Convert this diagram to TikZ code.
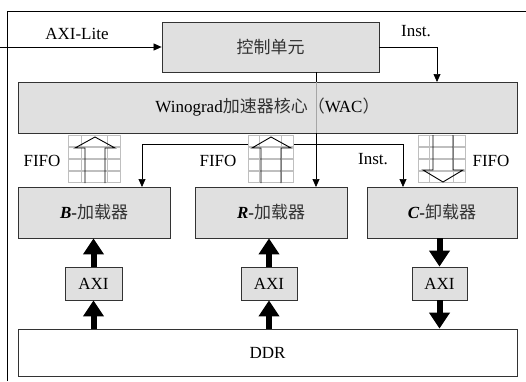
\documentclass[tikz,border=0pt]{standalone}
\usepackage{fontspec}
\setmainfont{Liberation Serif}
\newfontfamily\cjkfont{Noto Sans CJK SC}
\newcommand{\zh}[1]{{\cjkfont\color{black!80}#1}}
\usetikzlibrary{arrows.meta}
\begin{document}
\begin{tikzpicture}[x=1pt,y=-1pt,
  box/.style={draw=black!80,line width=0.8pt,fill=black!12,inner sep=0pt,font=\fontsize{17}{19}\selectfont},
  thin/.style={draw=black,line width=0.7pt,-{Triangle[width=7pt,length=8pt]}},
  thick/.style={draw=black,line width=6pt,-{Triangle[width=20pt,length=16pt]}},
  cell/.style={draw=black!25,line width=0.8pt,fill=white},
  lbl/.style={font=\fontsize{17}{19}\selectfont,inner sep=0pt}
]
\useasboundingbox (0,0) rectangle (526,381);
% frame
\draw[line width=0.8pt] (7,381) -- (7,11) -- (526,11);
% boxes
\node[box,minimum width=217pt,minimum height=50pt] (ctrl) at (270.5,47) {\zh{控制单元}};
\node[box,minimum width=499pt,minimum height=51pt] (wac) at (267.5,107.5) {Winograd\zh{加速器核心（}WAC\zh{）}};
\node[box,minimum width=152pt,minimum height=51pt] (bl) at (94,212.5) {\textbf{\textit{B}}-\zh{加载器}};
\node[box,minimum width=152pt,minimum height=51pt] (rl) at (271,212.5) {\textbf{\textit{R}}-\zh{加载器}};
\node[box,minimum width=150pt,minimum height=51pt] (cl) at (442,212.5) {\textbf{\textit{C}}-\zh{卸载器}};
\node[box,minimum width=57pt,minimum height=33pt] (ba) at (93.5,283.5) {AXI};
\node[box,minimum width=56pt,minimum height=33pt] (ra) at (269,283.5) {AXI};
\node[box,minimum width=55pt,minimum height=33pt] (ca) at (439.5,283.5) {AXI};
\node[box,fill=white,minimum width=499pt,minimum height=47pt] (ddr) at (267.5,352.5) {DDR};
% AXI-Lite
\coordinate (in) at (0,47);
\draw[thin] (in) -- (ctrl.west);
\node[lbl] (axil) at (77,34) {AXI-Lite};
% Inst to WAC
\coordinate (wacin) at (437,82);
\draw[thin] (ctrl.east) -| (wacin);
\node[lbl] (inst1) at (416,31) {Inst.};
% vertical control -> R loader
\coordinate (vt) at (316,72);
\coordinate (vw1) at (316,82);
\coordinate (vw2) at (316,133);
\coordinate (vr) at (316,187);
\draw[thin] (vt) -- (vr);
\draw[black!35,line width=0.8pt] (vw1) -- (vw2);
% Inst branch
\coordinate (ib) at (142,144);
\coordinate (ic) at (403,144);
\coordinate (ibt) at (142,187);
\coordinate (ict) at (403,187);
\draw[line width=0.7pt] (ib) -- (ic);
\draw[thin] (ib) -- (ibt);
\draw[thin] (ic) -- (ict);
\node[lbl] (inst2) at (373,159) {Inst.};
% FIFO stacks
\foreach \xa/\xb in {68/120, 248/293, 418/465}{
  \foreach \r in {0,1,2,3}{
    \pgfmathsetmacro\ya{135+12*\r}
    \pgfmathsetmacro\yb{\ya+11}
    \pgfmathsetmacro\xc{\xa+(\xb-\xa)/4}
    \pgfmathsetmacro\xd{\xa+3*(\xb-\xa)/4}
    \draw[cell] (\xa,\ya) rectangle (\xb,\yb);
    \draw[black!25,line width=0.8pt] (\xc,\ya) -- (\xc,\yb) (\xd,\ya) -- (\xd,\yb);
  }
}
\node[lbl] (f1) at (42,161) {FIFO};
\node[lbl] (f2) at (218,161) {FIFO};
\node[lbl] (f3) at (491,161) {FIFO};
% hollow arrows
\draw[line width=0.9pt] (85,183) -- (85,148) -- (75,148) -- (95,137) -- (115,148) -- (105,148) -- (105,183);
\draw[line width=0.9pt] (261,183) -- (261,148) -- (252,148) -- (271,137) -- (291,148) -- (281,148) -- (281,183);
\draw[line width=0.9pt] (433,135) -- (433,170) -- (423,170) -- (443,182) -- (463,170) -- (453,170) -- (453,135);
% thick arrows
\draw[thick] (ba.north) -- (ba.north |- bl.south);
\draw[thick] (ddr.north -| ba) -- (ba.south);
\draw[thick] (ra.north) -- (ra.north |- rl.south);
\draw[thick] (ddr.north -| ra) -- (ra.south);
\draw[thick] (cl.south -| ca) -- (ca.north);
\draw[thick] (ca.south) -- (ddr.north -| ca);
\end{tikzpicture}
\end{document}
